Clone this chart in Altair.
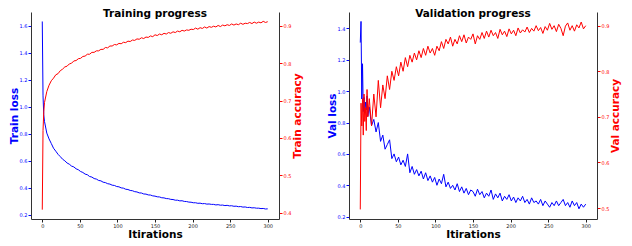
import altair as alt
import pandas as pd

# ---------------- data ----------------
x_ticks = [0, 50, 100, 150, 200, 250, 300]

train_iter = [0, 1, 2] + list(range(3, 301, 3))
train_loss = [1.63, 1.08, 0.94,
    0.890, 0.805, 0.762, 0.728, 0.693, 0.671, 0.648, 0.631, 0.612, 0.600,
    0.584, 0.575, 0.561, 0.555, 0.541, 0.534, 0.521, 0.514, 0.502, 0.497,
    0.484, 0.480, 0.469, 0.465, 0.455, 0.452, 0.442, 0.439, 0.431, 0.428,
    0.420, 0.418, 0.410, 0.408, 0.400, 0.398, 0.390, 0.388, 0.381, 0.379,
    0.372, 0.370, 0.363, 0.362, 0.355, 0.354, 0.348, 0.347, 0.341, 0.339,
    0.334, 0.333, 0.327, 0.326, 0.321, 0.320, 0.315, 0.314, 0.309, 0.309,
    0.304, 0.305, 0.300, 0.299, 0.295, 0.294, 0.290, 0.290, 0.286, 0.287,
    0.283, 0.284, 0.280, 0.281, 0.278, 0.278, 0.274, 0.276, 0.272, 0.273,
    0.269, 0.271, 0.267, 0.268, 0.264, 0.265, 0.261, 0.262, 0.258, 0.259,
    0.255, 0.256, 0.252, 0.253, 0.250, 0.250, 0.247, 0.248, 0.244, 0.245]
train_acc = [0.408, 0.62, 0.67,
    0.695, 0.724, 0.741, 0.753, 0.760, 0.769, 0.772, 0.780, 0.784, 0.790,
    0.792, 0.798, 0.800, 0.806, 0.807, 0.812, 0.813, 0.818, 0.819, 0.824,
    0.824, 0.829, 0.829, 0.833, 0.833, 0.837, 0.837, 0.842, 0.841, 0.846,
    0.846, 0.850, 0.849, 0.853, 0.852, 0.856, 0.855, 0.859, 0.858, 0.862,
    0.861, 0.865, 0.864, 0.868, 0.866, 0.870, 0.869, 0.873, 0.871, 0.876,
    0.874, 0.878, 0.876, 0.880, 0.878, 0.882, 0.880, 0.884, 0.882, 0.886,
    0.884, 0.888, 0.886, 0.889, 0.888, 0.891, 0.890, 0.894, 0.891, 0.895,
    0.893, 0.897, 0.894, 0.898, 0.896, 0.899, 0.897, 0.901, 0.898, 0.902,
    0.900, 0.903, 0.901, 0.905, 0.902, 0.905, 0.903, 0.907, 0.904, 0.907,
    0.906, 0.909, 0.906, 0.910, 0.907, 0.910, 0.908, 0.912, 0.909, 0.911]

val_iter = list(range(0, 11)) + list(range(12, 301, 3))
val_loss = [1.31, 1.445, 0.95, 1.175, 0.87, 0.96, 0.86, 0.93, 0.88, 0.97, 0.84,
    0.90, 0.78, 0.82, 0.74, 0.80, 0.68, 0.72, 0.63, 0.66, 0.69,
    0.57, 0.60, 0.55, 0.58, 0.53, 0.56, 0.52, 0.60, 0.48, 0.52,
    0.47, 0.50, 0.46, 0.49, 0.44, 0.48, 0.43, 0.46, 0.42, 0.45,
    0.40, 0.44, 0.41, 0.47, 0.39, 0.42, 0.38, 0.40, 0.37, 0.41,
    0.36, 0.39, 0.35, 0.38, 0.34, 0.37, 0.36, 0.33, 0.375, 0.34,
    0.36, 0.32, 0.35, 0.33, 0.37, 0.31, 0.345, 0.32, 0.35, 0.30,
    0.33, 0.31, 0.34, 0.30, 0.325, 0.29, 0.32, 0.30, 0.33, 0.29,
    0.31, 0.28, 0.32, 0.29, 0.30, 0.28, 0.31, 0.27, 0.30, 0.28,
    0.26, 0.29, 0.27, 0.30, 0.27, 0.29, 0.31, 0.27, 0.29, 0.26,
    0.30, 0.27, 0.29, 0.25, 0.28, 0.26, 0.28]
val_acc = [0.497, 0.73, 0.68, 0.74, 0.66, 0.75, 0.69, 0.72, 0.67, 0.76, 0.70,
    0.74, 0.68, 0.75, 0.70, 0.78, 0.72, 0.77, 0.74, 0.79, 0.76,
    0.80, 0.78, 0.81, 0.79, 0.82, 0.80, 0.83, 0.81, 0.835, 0.82,
    0.84, 0.825, 0.845, 0.83, 0.85, 0.835, 0.855, 0.84, 0.85, 0.835,
    0.855, 0.845, 0.865, 0.85, 0.87, 0.86, 0.875, 0.855, 0.87, 0.86,
    0.878, 0.865, 0.88, 0.862, 0.875, 0.87, 0.882, 0.86, 0.878, 0.87,
    0.885, 0.872, 0.888, 0.875, 0.89, 0.878, 0.885, 0.872, 0.892, 0.88,
    0.888, 0.876, 0.893, 0.882, 0.89, 0.878, 0.895, 0.884, 0.891, 0.886,
    0.897, 0.885, 0.894, 0.888, 0.90, 0.889, 0.896, 0.883, 0.898, 0.89,
    0.905, 0.892, 0.90, 0.887, 0.903, 0.894, 0.878, 0.899, 0.906, 0.89,
    0.90, 0.888, 0.902, 0.895, 0.908, 0.893, 0.90]

# ---------------- styling ----------------
FONT = "DejaVu Sans"
BLUE = "#0000ff"
RED = "#ff0000"
W, H = 248, 207


def panel(iters, loss, acc, title, loss_title, acc_title,
          loss_dom, loss_ticks, acc_dom, acc_ticks):
    df = pd.DataFrame({"it": iters, "loss": loss, "acc": acc})
    x = alt.X("it:Q",
              scale=alt.Scale(domain=[-15, 315], nice=False, zero=False),
              axis=alt.Axis(values=x_ticks, format="d", title="Itirations",
                            grid=False, labelFont=FONT, labelFontSize=5,
                            labelColor="#222222", tickColor="#222222",
                            tickSize=3, labelPadding=1, titlePadding=1,
                            titleFont=FONT, titleFontSize=10.5,
                            titleFontWeight="bold", titleColor="#000000",
                            domainColor="#333333"))
    l1 = alt.Chart(df).mark_line(color=BLUE, strokeWidth=1).encode(
        x=x,
        y=alt.Y("loss:Q",
                scale=alt.Scale(domain=loss_dom, nice=False, zero=False),
                axis=alt.Axis(orient="left", values=loss_ticks, format=".1f",
                              title=loss_title, grid=False, labelFont=FONT,
                              labelFontSize=5, labelColor=BLUE,
                              tickColor=BLUE, tickSize=3, labelPadding=1,
                              titlePadding=0, titleFont=FONT,
                              titleFontSize=10.5, titleFontWeight="bold",
                              titleColor=BLUE, domainColor="#333333")))
    l2 = alt.Chart(df).mark_line(color=RED, strokeWidth=1).encode(
        x=x,
        y=alt.Y("acc:Q",
                scale=alt.Scale(domain=acc_dom, nice=False, zero=False),
                axis=alt.Axis(orient="right", values=acc_ticks, format=".1f",
                              title=acc_title, titleAngle=270,
                              titleBaseline="top", grid=False,
                              labelFont=FONT, labelFontSize=5,
                              labelColor=RED, tickColor=RED, tickSize=3,
                              labelPadding=1, titlePadding=2,
                              titleFont=FONT, titleFontSize=10.5,
                              titleFontWeight="bold", titleColor=RED,
                              domainColor="#333333")))
    return alt.layer(l1, l2).resolve_scale(y="independent").properties(
        width=W, height=H,
        title=alt.TitleParams(text=title, font=FONT, fontSize=10.5,
                              fontWeight="bold", color="#000000",
                              anchor="middle", frame="group", offset=-7))


left = panel(train_iter, train_loss, train_acc, "Training progress",
             "Train loss", "Train accuracy",
             [0.17, 1.70], [0.2, 0.4, 0.6, 0.8, 1.0, 1.2, 1.4, 1.6],
             [0.383, 0.937], [0.4, 0.5, 0.6, 0.7, 0.8, 0.9])
right = panel(val_iter, val_loss, val_acc, "Validation progress",
              "Val loss", "Val accuracy",
              [0.185, 1.505], [0.2, 0.4, 0.6, 0.8, 1.0, 1.2, 1.4],
              [0.476, 0.93], [0.5, 0.6, 0.7, 0.8, 0.9])

chart = alt.hconcat(left, right, spacing=22).properties(
    padding=0
).configure_view(stroke="transparent")

chart.save("out.html", embed_options={"renderer": "svg", "actions": False})
